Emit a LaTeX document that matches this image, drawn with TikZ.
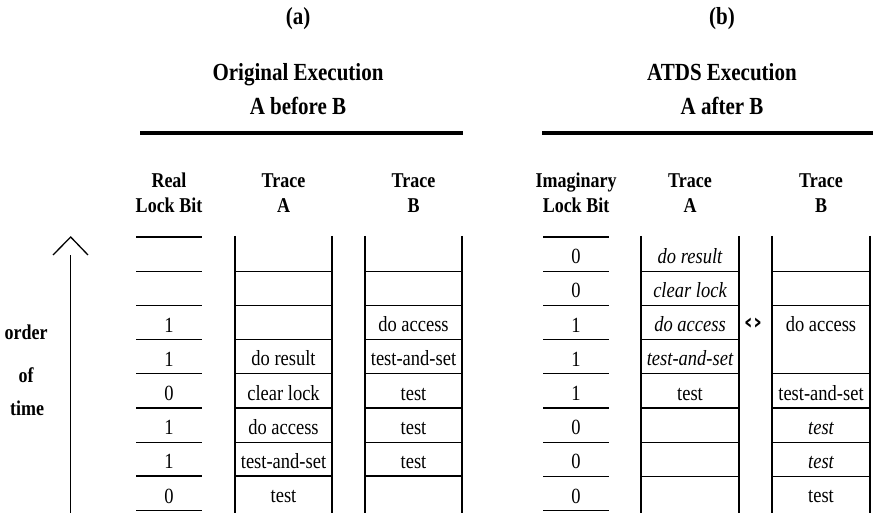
\documentclass[tikz,border=0pt]{standalone}
\usepackage{graphicx}
\usepackage{fontspec}
\setmainfont{Liberation Serif}
\newfontfamily\markfont{DejaVu Sans}
% the typeface is set a little narrow and tall
\newcommand\tallset[1]{\scalebox{1}[1.17]{#1}}
\begin{document}
\begin{tikzpicture}[x=1pt,y=-1pt,
  title/.style={font=\fontsize{21}{24}\selectfont\bfseries, anchor=base, inner sep=0pt},
  head/.style={font=\fontsize{18}{20}\selectfont\bfseries, anchor=base, inner sep=0pt},
  cell/.style={font=\fontsize{18.5}{20}\selectfont, anchor=base, inner sep=0pt},
  icell/.style={font=\fontsize{18.5}{20}\selectfont\itshape, anchor=base, inner sep=0pt},
  rail/.style={line width=2.6pt},
  rule/.style={line width=1.2pt},
  bar/.style={line width=4pt},
  axis/.style={line width=1.3pt},
]
\useasboundingbox (0,0) rectangle (879,513);

% ---------- titles ----------
\node[title] (ta)  at (298,25)  {\tallset{(a)}};
\node[title] (ta1) at (298,81)  {\tallset{Original Execution}};
\node[title] (ta2) at (298,115) {\tallset{A before B}};
\draw[bar] (140,133) -- (463,133);

\node[title] (tb)  at (722,25)  {\tallset{(b)}};
\node[title] (tb1) at (722,81)  {\tallset{ATDS Execution}};
\node[title] (tb2) at (722,115) {\tallset{A after B}};
\draw[bar] (542,133) -- (873,133);

% ---------- column headings ----------
\node[head] (ha1) at (169,188)   {\tallset{Real}};
\node[head] (ha2) at (169,213)   {\tallset{Lock Bit}};
\node[head] (ha3) at (283.5,188) {\tallset{Trace}};
\node[head] (ha4) at (283.5,213) {\tallset{A}};
\node[head] (ha5) at (413.5,188) {\tallset{Trace}};
\node[head] (ha6) at (413.5,213) {\tallset{B}};

\node[head] (hb1) at (576,188) {\tallset{Imaginary}};
\node[head] (hb2) at (576,213) {\tallset{Lock Bit}};
\node[head] (hb3) at (690,188) {\tallset{Trace}};
\node[head] (hb4) at (690,213) {\tallset{A}};
\node[head] (hb5) at (821,188) {\tallset{Trace}};
\node[head] (hb6) at (821,213) {\tallset{B}};

% ---------- time axis ----------
\node[head] (ord)  at (26,340) {\tallset{order}};
\node[head] (of)   at (26,382) {\tallset{of}};
\node[head] (time) at (27,415) {\tallset{time}};
\coordinate (axbot) at (70.7,513);
\coordinate (axtop) at (70.7,255);
\draw[axis] (axbot) -- (axtop);
\draw[axis] (53,255) -- (70.7,237) -- (88,255);

% ---------- lock bit ledgers ----------
\foreach \x in {136,543}
  \foreach \k in {0,...,8}
    \draw[rule] (\x,237+34.2*\k) -- ++(66,0);
\draw[line width=2pt] (136,237+34.2*7) -- ++(66,0);

% ---------- trace ladders ----------
\foreach \l/\r in {235/332,365/462,641/739,772/870}{
  \draw[rail] (\l,236) -- (\l,513);
  \draw[rail] (\r,236) -- (\r,513);
}
\foreach \l/\r in {235/332,365/462,641/739}
  \foreach \k in {1,...,7}
    \draw[rule] (\l,237+34.2*\k) -- (\r,237+34.2*\k);
\foreach \k in {1,2,4,5,6,7}
  \draw[rule] (772,237+34.2*\k) -- (870,237+34.2*\k);
\draw[line width=2pt] (235,237+34.2*7) -- (332,237+34.2*7);
\draw[line width=2pt] (365,237+34.2*7) -- (462,237+34.2*7);

% ---------- (a) original execution ----------
\foreach \r/\v in {3/1,4/1,5/0,6/1,7/1,8/0}
  \node[cell] (la\r) at (169,237+34.2*\r-7.5) {\tallset{\v}};
\foreach \r/\t in {4/do result,5/clear lock,6/do access,7/test-and-set,8/test}
  \node[cell] (aa\r) at (283.5,237+34.2*\r-8) {\tallset{\t}};
\foreach \r/\t in {3/do access,4/test-and-set,5/test,6/test,7/test}
  \node[cell] (ab\r) at (413.5,237+34.2*\r-8) {\tallset{\t}};

% ---------- (b) ATDS execution ----------
\foreach \r/\v in {1/0,2/0,3/1,4/1,5/1,6/0,7/0,8/0}
  \node[cell] (lb\r) at (576,237+34.2*\r-7.5) {\tallset{\v}};
\foreach \r/\t in {1/do result,2/clear lock,3/do access,4/test-and-set}
  \node[icell] (ba\r) at (690,237+34.2*\r-8) {\tallset{\t}};
\node[cell] (ba5) at (690,237+34.2*5-8) {\tallset{test}};
\node[cell] (bb3) at (821,237+34.2*3-8) {\tallset{do access}};
\node[cell] (bb5) at (821,237+34.2*5-8) {\tallset{test-and-set}};
\node[icell] (bb6) at (821,237+34.2*6-8) {\tallset{test}};
\node[icell] (bb7) at (821,237+34.2*7-8) {\tallset{test}};
\node[cell] (bb8) at (821,237+34.2*8-8) {\tallset{test}};

% swap marker between the two traces
\node[font=\fontsize{22}{24}\selectfont\markfont\bfseries, inner sep=0pt] (swap) at (753,324) {‹›};

\end{tikzpicture}
\end{document}
